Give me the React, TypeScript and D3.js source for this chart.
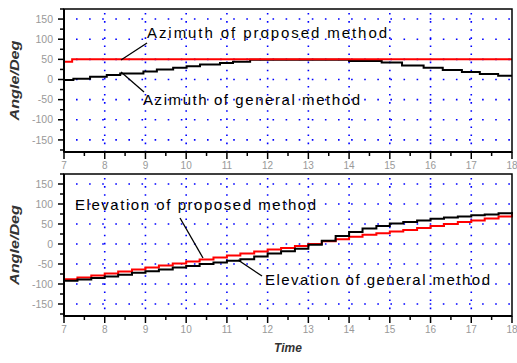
import React from "react";
import * as d3 from "d3";

// ---- data ----
const xTicks = [7, 8, 9, 10, 11, 12, 13, 14, 15, 16, 17, 18];
const yTicks = [-150, -100, -50, 0, 50, 100, 150];

// Top panel: azimuth
const azPropTime = [7, 7.2, 18];
const azPropVal = [44, 50, 50];
const azGenTime = [7, 7.23, 7.64, 8.05, 8.38, 8.95, 9.28, 9.68, 10.01, 10.34, 10.83, 11.15, 11.57, 14.0, 14.8, 15.3, 15.83, 16.3, 16.77, 17.21, 17.66, 18];
const azGenVal = [-1, 2, 7, 11, 15, 20, 25, 29, 33, 37, 41, 44, 49, 46, 42, 35, 29, 23.5, 18.5, 13.5, 9, 9];

// Bottom panel: elevation
const elTime = [7, 7.33, 7.67, 8, 8.33, 8.67, 9, 9.33, 9.67, 10, 10.33, 10.67, 11, 11.33, 11.67, 12, 12.33, 12.67, 13, 13.33, 13.67, 14, 14.33, 14.67, 15, 15.33, 15.67, 16, 16.33, 16.67, 17, 17.33, 17.67, 18];
const elPropVal = [-88, -84, -79, -74, -69, -64, -59, -54, -49, -44, -39, -34, -29, -24, -19, -14, -10, -5, 0, 7, 12, 18, 23, 27, 31, 35, 40, 45, 50, 55, 59, 64, 69, 75];
const elGenVal = [-92, -89, -85, -81, -77, -72, -68, -64, -59, -55, -50, -46, -42, -38, -31, -24, -18, -12, -2, 8, 20, 30, 39, 45, 51, 55, 59, 63, 66, 69, 72, 74, 77, 80];

const FONT = "'Liberation Sans', Arial, sans-serif";

type Ann = { text: string; tx: number; ty: number; tl: number; x1: number; y1: number; x2: number; y2: number };

function Panel({ top, bottom, series, anns }: { top: number; bottom: number; series: { t: number[]; v: number[]; color: string }[]; anns: Ann[] }) {
  const x = d3.scaleLinear().domain([7, 18]).range([64, 512]);
  const y = d3.scaleLinear().domain([-180, 175]).range([bottom, top]);
  const line = d3
    .line<[number, number]>()
    .x((d) => x(d[0]))
    .y((d) => y(d[1]))
    .curve(d3.curveStepAfter);
  const minorX = d3.range(7, 18.01, 0.5);
  const minorY = d3.range(-175, 176, 25);
  return (
    <g>
      {/* grid */}
      {yTicks.map((t) => (
        <line key={"gy" + t} x1={x(7) + 12} x2={x(18)} y1={y(t)} y2={y(t)} stroke="#0000ff" strokeWidth={1.6} strokeDasharray="1.6 11.5" />
      ))}
      {xTicks.slice(1, -1).map((t) => (
        <line key={"gx" + t} x1={x(t)} x2={x(t)} y1={top + 4} y2={bottom} stroke="#0000ff" strokeWidth={1.6} strokeDasharray="1.6 6.5" />
      ))}
      {/* series */}
      {series.map((s, i) => (
        <path key={i} d={line(s.t.map((tt, j) => [tt, s.v[j]]) as [number, number][]) || ""} fill="none" stroke={s.color} strokeWidth={2} />
      ))}
      {/* frame */}
      <rect x={x(7)} y={top} width={x(18) - x(7)} height={bottom - top} fill="none" stroke="#000" strokeWidth={1.5} />
      <line x1={x(7)} x2={x(7)} y1={top} y2={bottom} stroke="#000" strokeWidth={2} />
      <line x1={x(7)} x2={x(18)} y1={bottom} y2={bottom} stroke="#000" strokeWidth={2} />
      {/* y ticks */}
      {minorY.map((t) => (
        <line key={"ty" + t} x1={x(7)} x2={x(7) - (t % 50 === 0 ? 6 : 4)} y1={y(t)} y2={y(t)} stroke="#000" strokeWidth={1.5} />
      ))}
      {yTicks.map((t) => (
        <text key={"ly" + t} x={53} y={y(t)} dy="0.35em" textAnchor="end" fontFamily={FONT} fontSize={10.5} fill="#999">
          {t}
        </text>
      ))}
      {/* x ticks */}
      {minorX.map((t) => (
        <line key={"tx" + t} x1={x(t)} x2={x(t)} y1={bottom} y2={bottom + (Number.isInteger(t) ? 7 : 4)} stroke="#000" strokeWidth={1.5} />
      ))}
      {xTicks.map((t) => (
        <text key={"lx" + t} x={x(t)} y={bottom + 13} dy="0.35em" textAnchor="middle" fontFamily={FONT} fontSize={10} fill="#999">
          {t}
        </text>
      ))}
      {/* y label */}
      <text transform={`translate(19,${(top + bottom) / 2}) rotate(-90)`} textAnchor="middle" fontFamily={FONT} fontStyle="italic" fontWeight="bold" fontSize={12} fill="#333" textLength={80} lengthAdjust="spacingAndGlyphs">
        Angle/Deg
      </text>
      {/* annotations */}
      {anns.map((a, i) => (
        <g key={"a" + i}>
          <line x1={a.x1} y1={a.y1} x2={a.x2} y2={a.y2} stroke="#000" strokeWidth={1.3} />
          <text x={a.tx} y={a.ty} dy="0.35em" fontFamily={FONT} fontSize={15} fill="#000" textLength={a.tl} lengthAdjust="spacing">
            {a.text}
          </text>
        </g>
      ))}
    </g>
  );
}

export default function App() {
  return (
    <svg width={517} height={363} style={{ position: "absolute", left: 0, top: 0, background: "#fff" }}>
      <Panel
        top={9}
        bottom={152}
        series={[
          { t: azGenTime, v: azGenVal, color: "#000" },
          { t: azPropTime, v: azPropVal, color: "#ff0000" },
        ]}
        anns={[
          { text: "Azimuth of proposed method", tx: 147, ty: 33, tl: 240, x1: 121, y1: 60, x2: 147, y2: 43 },
          { text: "Azimuth of general method", tx: 143, ty: 100, tl: 217, x1: 121, y1: 72, x2: 144, y2: 92 },
        ]}
      />
      <Panel
        top={174}
        bottom={316}
        series={[
          { t: elTime, v: elPropVal, color: "#ff0000" },
          { t: elTime, v: elGenVal, color: "#000" },
        ]}
        anns={[
          { text: "Elevation of proposed method", tx: 75, ty: 205, tl: 241, x1: 180, y1: 218, x2: 203, y2: 258 },
          { text: "Elevation of general method", tx: 265, ty: 280, tl: 225, x1: 238, y1: 260, x2: 262, y2: 276 },
        ]}
      />
      <text x={288} y={352} textAnchor="middle" fontFamily={FONT} fontStyle="italic" fontWeight="bold" fontSize={12} fill="#333">
        Time
      </text>
    </svg>
  );
}
